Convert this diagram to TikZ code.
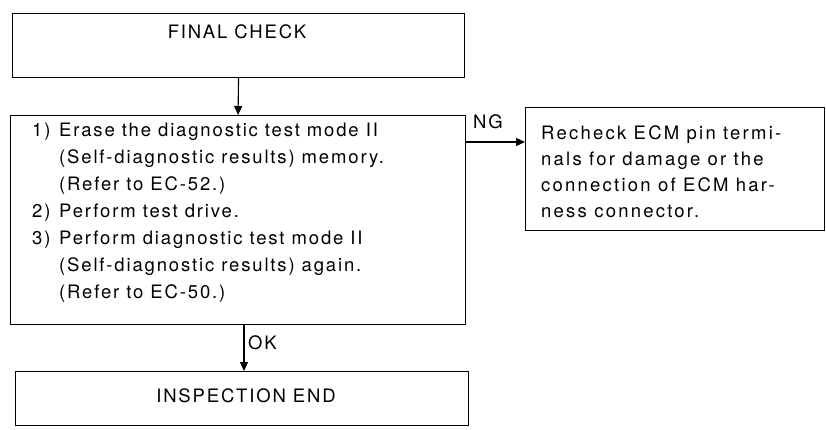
\documentclass[tikz,border=0pt]{standalone}
\usepackage{fontspec}
\setmainfont{TeX Gyre Heros}[LetterSpace=10]
\newfontfamily\ngfont{TeX Gyre Heros}[LetterSpace=12]
\usetikzlibrary{arrows.meta}
\begin{document}
\begin{tikzpicture}[x=1pt,y=-1pt,
  box/.style={draw,line width=1.1pt,inner sep=0pt,anchor=north west},
  lbl/.style={inner sep=0pt,font=\fontsize{18.5}{27}\selectfont},
  lblng/.style={inner sep=0pt,font=\ngfont\fontsize{18.5}{26}\selectfont},
  arr/.style={line width=1.1pt,-{Triangle[length=9pt,width=8pt]}}]
\useasboundingbox (0,0) rectangle (826,429);
% boxes
\node[box,minimum width=452pt,minimum height=64pt] (fc) at (12,13) {};
\node[box,minimum width=455pt,minimum height=209pt] (main) at (10,115) {};
\node[box,minimum width=299pt,minimum height=123pt] (ng) at (525,107) {};
\node[box,minimum width=453pt,minimum height=54pt] (end) at (15,371) {};
% texts
\node[lbl,anchor=base] (fct) at (237,38) {FINAL CHECK};
\node[lbl,anchor=north west,align=left] (mt) at (32,123) {%
\makebox[27pt][l]{1)}Erase the diagnostic test mode II\\
\hspace*{27pt}(Self-diagnostic results) memory.\\
\hspace*{27pt}(Refer to EC-52.)\\
\makebox[27pt][l]{2)}Perform test drive.\\
\makebox[27pt][l]{3)}Perform diagnostic test mode II\\
\hspace*{27pt}(Self-diagnostic results) again.\\
\hspace*{27pt}(Refer to EC-50.)};
\node[lblng,anchor=north west,align=left] (ngt) at (541,125) {%
Recheck ECM pin termi-\\
nals for damage or the\\
connection of ECM har-\\
ness connector.};
\node[lbl,anchor=base] (endt) at (246,402) {INSPECTION END};
% connectors
\coordinate (ngy) at (0,142);
\coordinate (okx) at (244,0);
\draw[arr] (fc.south) -- (main.north);
\draw[arr] (main.east |- ngy) -- (ng.west |- ngy);
\draw[arr] (main.south -| okx) -- (end.north -| okx);
\node[lbl,anchor=base west] (ngl) at (473,128) {NG};
\node[lbl,anchor=base west] (okl) at (248,349) {OK};
\end{tikzpicture}
\end{document}
